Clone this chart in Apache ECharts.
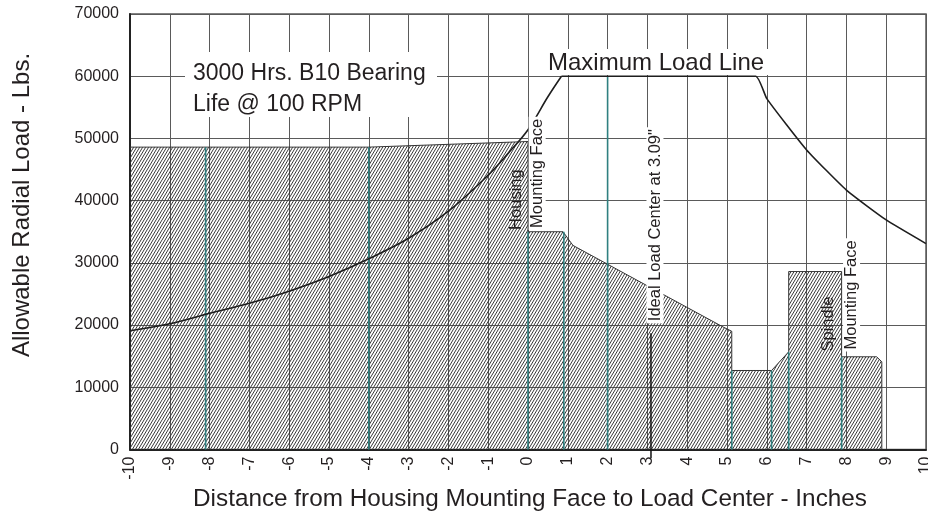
<!DOCTYPE html>
<html>
<head>
<meta charset="utf-8">
<script src="https://cdn.jsdelivr.net/npm/echarts@6/dist/echarts.min.js"></script>
<style>html,body{margin:0;padding:0;background:#fff;}#c{width:928px;height:515px;}</style>
</head>
<body>
<div id="c"></div>
<script>
// ---- data ----
const xTicks = [-10, 10, 1];            // min, max, interval (inches)
const yTicks = [0, 70000, 10000];       // min, max, interval (lbs)

// hatched allowable-load envelope
const hatchX = [-10, -4, 0, 0, 0.88, 1.13, 4.9, 5.12, 5.12, 6.12, 6.55, 6.55, 7.88, 7.88, 8.76, 8.89, 8.89];
const hatchY = [48600, 48600, 49500, 35000, 35000, 32800, 19700, 19000, 12700, 12700, 15700, 28600, 28600, 14900, 14900, 14100, 0];

// maximum load line: curved part and flat/decreasing part
const maxCurveX = [-10, -9, -8, -7, -6, -5, -4, -3, -2, -1, -0.5, 0, 0.5, 0.84];
const maxCurveY = [19100, 20200, 21900, 23500, 25450, 27800, 30650, 33950, 38300, 44100, 47600, 51400, 56700, 60000];
const maxFlatX = [0.84, 5.72, 6, 7, 8, 9, 10];
const maxFlatY = [60000, 60000, 56400, 48150, 41700, 36900, 33100];

// teal component boundary lines
const tealX = [-8.1, -4, 0, 0.9, 2, 5.12, 6.12, 6.55, 7.88];
const tealTop = [48600, 48600, 35000, 35000, 60000, 12700, 12700, 15700, 14900];

// ideal load center marker
const idealX = 3.09;
const idealTop = 18700;
const idealBottom = -1400;

// rotated annotations
const labelText = ['Housing', 'Mounting Face', 'Ideal Load Center at 3.09"', 'Spindle', 'Mounting Face'];
const labelX = [-0.28, 0.23, 3.19, 7.56, 8.13];
const labelY = [35300, 35300, 20300, 15750, 15750];
const labelBg = [false, true, true, false, true];

const FONT = '"Liberation Sans", Arial, sans-serif';
const INK = '#231f20';

function makeHatch() {
  const w = 3, h = 5, c = document.createElement('canvas');
  c.width = w; c.height = h;
  const g = c.getContext('2d');
  g.strokeStyle = '#2e2e2e';
  g.lineWidth = 0.95;
  for (let k = -1; k <= 1; k++) {
    const o = k * w;
    g.beginPath();
    g.moveTo(o, h);
    g.lineTo(o + w, 0);
    g.stroke();
  }
  return c;
}

const chart = echarts.init(document.getElementById('c'), null, {renderer: 'canvas'});

const option = {
  animation: false,
  backgroundColor: '#fff',
  grid: {left: 130, right: 2, top: 14, bottom: 65.5, show: true, borderColor: '#5a5a5a', borderWidth: 1.5,
         backgroundColor: 'transparent', containLabel: false, outerBoundsMode: 'none'},
  xAxis: {
    type: 'value', min: xTicks[0], max: xTicks[1], interval: xTicks[2],
    axisLine: {show: true, onZero: false, lineStyle: {color: '#222', width: 2}},
    axisTick: {show: false},
    axisLabel: {rotate: 90, margin: 7, color: INK, fontFamily: FONT, fontSize: 16},
    splitLine: {show: true, lineStyle: {color: '#5a5a5a', width: 1}}
  },
  yAxis: {
    type: 'value', min: yTicks[0], max: yTicks[1], interval: yTicks[2],
    axisLine: {show: true, onZero: false, lineStyle: {color: '#222', width: 2}},
    axisTick: {show: false},
    axisLabel: {margin: 11, color: INK, fontFamily: FONT, fontSize: 16, formatter: v => String(v)},
    splitLine: {show: true, lineStyle: {color: '#5a5a5a', width: 1}}
  },
  series: [
    {
      type: 'line', z: 2, symbol: 'none', silent: true,
      data: hatchX.map((x, i) => [x, hatchY[i]]),
      lineStyle: {color: '#333', width: 1},
      areaStyle: {color: {image: makeHatch(), repeat: 'repeat'}, opacity: 1}
    },
    {
      type: 'custom', z: 3, silent: true,
      data: tealX.map((x, i) => [x, tealTop[i]]),
      renderItem: (params, api) => {
        const a = api.coord([api.value(0), 0]);
        const b = api.coord([api.value(0), api.value(1)]);
        return {type: 'line', shape: {x1: a[0], y1: a[1], x2: b[0], y2: b[1]}, style: {stroke: '#2f8080', lineWidth: 1.6}};
      }
    },
    {
      type: 'line', z: 4, symbol: 'none', smooth: 0.35, silent: true,
      data: maxCurveX.map((x, i) => [x, maxCurveY[i]]),
      lineStyle: {color: '#1e1e1e', width: 1.6}
    },
    {
      type: 'line', z: 4, symbol: 'none', smooth: 0.15, silent: true,
      data: maxFlatX.map((x, i) => [x, maxFlatY[i]]),
      lineStyle: {color: '#1e1e1e', width: 1.6}
    },
    {
      type: 'custom', z: 5, clip: false, silent: true,
      data: [[idealX, idealTop, idealBottom]],
      renderItem: (params, api) => {
        const a = api.coord([api.value(0), api.value(1)]);
        const b = api.coord([api.value(0), api.value(2)]);
        return {type: 'line', shape: {x1: a[0], y1: a[1], x2: b[0], y2: b[1]}, style: {stroke: '#111', lineWidth: 1.5}};
      }
    },
    {
      type: 'custom', z: 6, clip: false, silent: true,
      data: labelX.map((x, i) => [x, labelY[i]]),
      renderItem: (params, api) => {
        const i = params.dataIndex;
        const p = api.coord([api.value(0), api.value(1)]);
        return {
          type: 'text', x: p[0], y: p[1], rotation: Math.PI / 2,
          style: {
            text: labelText[i], font: '16.5px ' + FONT, fill: INK,
            align: 'left', verticalAlign: 'middle',
            backgroundColor: labelBg[i] ? '#fff' : null, padding: labelBg[i] ? [0, 2, 0, 2] : 0
          }
        };
      }
    }
  ],
  graphic: [
    {type: 'rect', z: 20, shape: {x: 185, y: 52, width: 252, height: 65}, style: {fill: '#fff'}},
    {type: 'text', z: 21, x: 193, y: 74, style: {text: '3000 Hrs. B10 Bearing', font: '23px ' + FONT, fill: INK, align: 'left', verticalAlign: 'middle'}},
    {type: 'text', z: 21, x: 193, y: 105, style: {text: 'Life @ 100 RPM', font: '23px ' + FONT, fill: INK, align: 'left', verticalAlign: 'middle'}},
    {type: 'rect', z: 20, shape: {x: 544, y: 49, width: 226, height: 26}, style: {fill: '#fff'}},
    {type: 'text', z: 21, x: 548, y: 63.5, style: {text: 'Maximum Load Line', font: '24px ' + FONT, fill: INK, align: 'left', verticalAlign: 'middle'}},
    {type: 'text', z: 21, x: 530, y: 499, style: {text: 'Distance from Housing Mounting Face to Load Center - Inches', font: '24.3px ' + FONT, fill: INK, align: 'center', verticalAlign: 'middle'}},
    {type: 'text', z: 21, x: 22.5, y: 205, rotation: Math.PI / 2, style: {text: 'Allowable Radial Load - Lbs.', font: '24px ' + FONT, fill: INK, align: 'center', verticalAlign: 'middle'}}
  ]
};
chart.setOption(option);
</script>
</body>
</html>
